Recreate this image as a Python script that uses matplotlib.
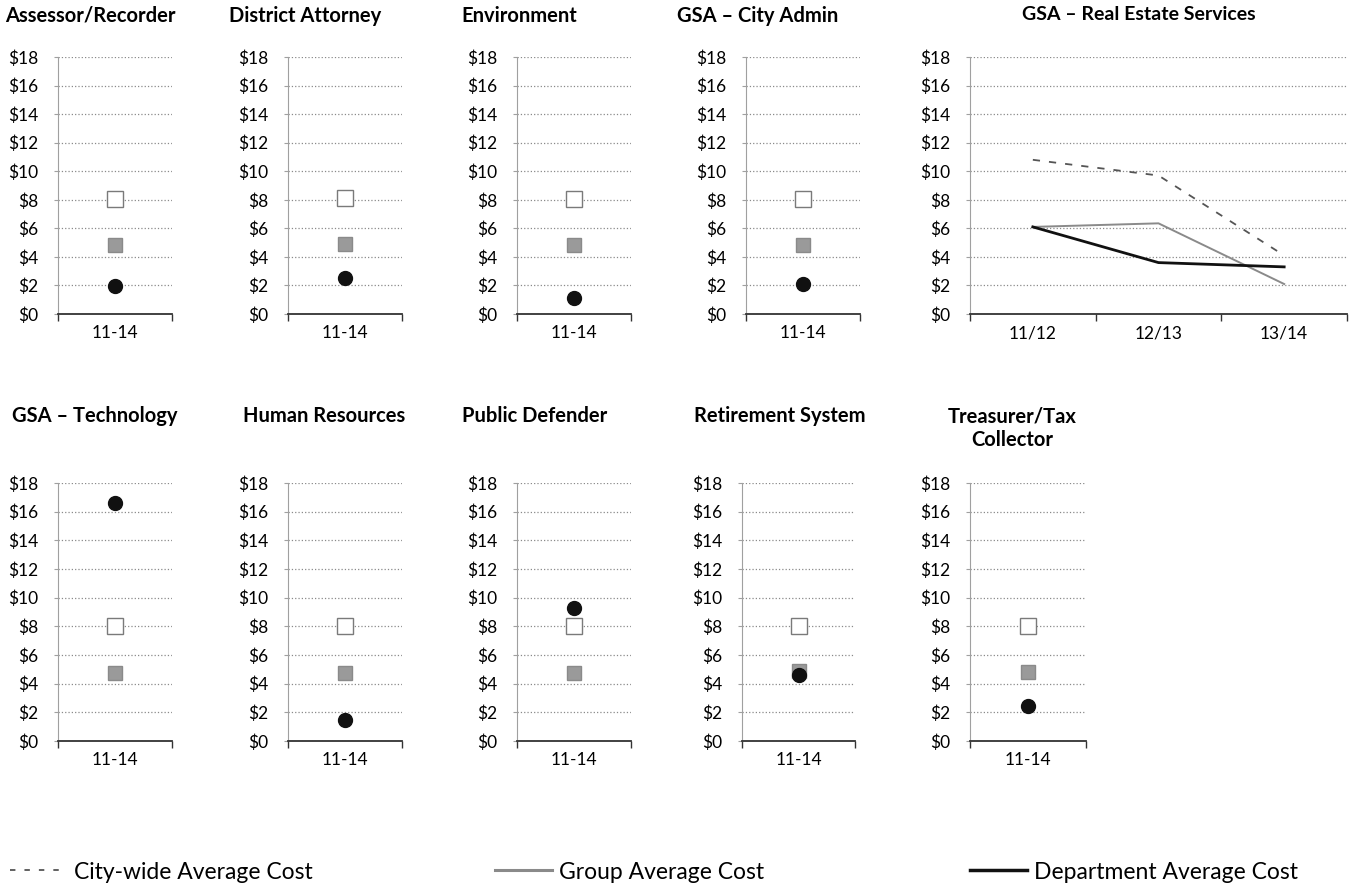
import matplotlib.pyplot as plt
from matplotlib.lines import Line2D
from matplotlib.ticker import FuncFormatter, MultipleLocator

plt.rcParams["font.family"] = ["Lato", "DejaVu Sans"]

# single-period panels (period 11-14)
single_titles = ["Assessor/Recorder", "District Attorney", "Environment", "GSA \u2013 City Admin",
                 "GSA \u2013 Technology", "Human Resources", "Public Defender",
                 "Retirement System", "Treasurer/Tax\nCollector"]
single_period = ["11-14"]
single_city = [8.05, 8.1, 8.05, 8.05, 8.0, 8.0, 8.0, 8.05, 8.0]
single_group = [4.85, 4.9, 4.8, 4.8, 4.75, 4.75, 4.75, 4.85, 4.8]
single_dept = [1.95, 2.55, 1.1, 2.1, 16.6, 1.45, 9.3, 4.6, 2.45]

# GSA - Real Estate Services, three years
re_title = "GSA \u2013 Real Estate Services"
re_years = ["11/12", "12/13", "13/14"]
re_city = [10.8, 9.7, 4.1]
re_group = [6.1, 6.35, 2.1]
re_dept = [6.1, 3.6, 3.3]

W, H = 1356, 888
fig = plt.figure(figsize=(W / 100, H / 100), dpi=100)


def px_axes(left, right, top, bottom):
    return fig.add_axes([left / W, 1 - bottom / H, (right - left) / W, (bottom - top) / H])


def style(ax, cats):
    n = len(cats)
    ax.set_ylim(0, 18)
    ax.set_xlim(-0.5, n - 0.5)
    ax.yaxis.set_major_locator(MultipleLocator(2))
    ax.yaxis.set_major_formatter(FuncFormatter(lambda v, p: f"${v:.0f}"))
    ax.grid(axis="y", linestyle=":", color="#8a8a8a", lw=0.9)
    ax.set_axisbelow(True)
    ax.spines["top"].set_visible(False)
    ax.spines["right"].set_visible(False)
    ax.spines["left"].set_color("#a0a0a0")
    ax.spines["left"].set_linewidth(0.8)
    ax.spines["bottom"].set_color("#333333")
    ax.spines["bottom"].set_linewidth(1.3)
    ax.tick_params(axis="y", length=3, color="#a0a0a0", labelsize=12.5, pad=11)
    ax.set_xticks(range(n))
    ax.set_xticklabels(cats)
    ax.set_xticks([i - 0.5 for i in range(n + 1)], minor=True)
    ax.tick_params(axis="x", which="major", length=0, labelsize=12.5, pad=8)
    ax.tick_params(axis="x", which="minor", length=5, color="#333333", width=1)


# (left, right) pixel extents of each single panel, and row (top, bottom)
single_cols = [(58, 172), (288, 402), (517, 631), (746, 860),
               (58, 172), (288, 402), (517, 631), (742, 855), (970, 1086)]
single_rows = [0, 0, 0, 0, 1, 1, 1, 1, 1]
rows = [(57, 314), (483, 741)]
title_x = [90, 305, 519, 758, 95, 324, 535, 780, 1012]
title_y = [6, 406]

for i, t in enumerate(single_titles):
    l, r = single_cols[i]
    top, bot = rows[single_rows[i]]
    ax = px_axes(l, r, top, bot)
    ax.plot([0], [single_city[i]], marker="s", ms=11.5, mfc="white", mec="#7a7a7a", mew=1, ls="none")
    ax.plot([0], [single_group[i]], marker="s", ms=10, mfc="#9a9a9a", mec="#8a8a8a", mew=1, ls="none")
    ax.plot([0], [single_dept[i]], marker="o", ms=10, mfc="#111111", mec="#111111", ls="none")
    style(ax, single_period)
    fig.text(title_x[i] / W, 1 - title_y[single_rows[i]] / H, t, ha="center", va="top",
             fontsize=14.5, fontweight="bold", linespacing=1.25)

ax = px_axes(970, 1347, 57, 314)
xs = range(len(re_years))
ax.plot(xs, re_city, color="#555555", lw=1.3, dashes=(4, 5))
ax.plot(xs, re_group, color="#8a8a8a", lw=1.4)
ax.plot(xs, re_dept, color="#111111", lw=2)
style(ax, re_years)
fig.text(1139 / W, 1 - 6 / H, re_title, ha="center", va="top", fontsize=14, fontweight="bold")

# legend along the bottom
handles = [Line2D([], [], color="#555555", lw=1.3, dashes=(3, 5)),
           Line2D([], [], color="#8a8a8a", lw=2.2),
           Line2D([], [], color="#111111", lw=2.5)]
labels = ["City-wide Average Cost", "Group Average Cost", "Department Average Cost"]
legend_x = [10, 495, 970]
for h, lab, x in zip(handles, labels, legend_x):
    leg = fig.legend([h], [lab], loc="center left", bbox_to_anchor=(x / W, 1 - 872 / H),
                     frameon=False, fontsize=16.5, handlelength=2.5, handletextpad=0.3,
                     borderpad=0, borderaxespad=0)

fig.savefig("out.png", dpi=100)
